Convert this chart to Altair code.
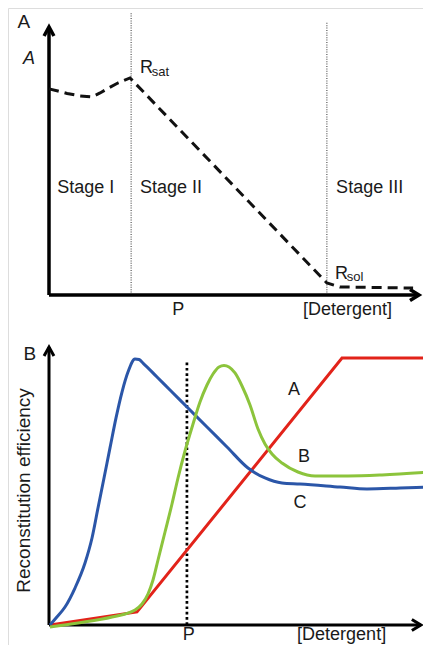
import altair as alt
import pandas as pd

FONT = "Liberation Sans"
INK = "#1a1a1a"

# ---------------- Panel A (schematic: aggregation state vs [detergent]) ----------------
a_conc = [0, 2.4, 4.9, 8.4, 11.6, 13.8, 15.7, 18.6, 21.9, 75.1, 78.6, 98.4]
a_value = [76.9, 76.1, 75.2, 74.3, 73.9, 75.4, 76.9, 79.1, 81.0, 4.5, 3.0, 2.6]
a_bounds = [22.2, 75.1]
a_bound_tops = [105.2, 101.9]
a_stage_labels = ["Stage I", "Stage II", "Stage III"]
a_stage_x = [2.2, 24.6, 77.6]
a_stage_y = [38.1, 38.1, 38.1]
a_point_labels = ["R", "R"]
a_point_x = [24.6, 77.3]
a_point_y = [82.8, 6.0]
a_sub_labels = ["sat", "sol"]
a_sub_x = [27.8, 80.5]
a_sub_y = [81.7, 5.2]
a_xlabels = ["P", "[Detergent]"]
a_xlabel_x = [34.9, 80.7]
a_xlabel_y = [-7.5, -7.5]
a_axis_end = 100

# ---------------- Panel B (reconstitution efficiency vs [detergent]) ----------------
b_red_x = [0.3, 23.1, 76.9, 100.3]
b_red_y = [0, 4.7, 96.0, 96.0]
b_blue_x = [0.26, 1.84, 4.2, 6.82, 9.45, 11.29, 12.86, 14.44, 16.01, 17.59, 19.16,
            20.73, 22.57, 23.62, 24.67, 28.35, 31.76, 36.22, 41.47, 46.72, 52.23,
            56.69, 61.15, 65.88, 76.38, 83.46, 92.13, 99.21]
b_blue_y = [0, 2.52, 6.47, 13.3, 22.3, 31.3, 42.1, 52.9, 63.7, 74.5, 83.8,
            91.0, 95.7, 95.5, 94.24, 89.21, 84.53, 78.42, 71.22, 64.03, 56.47,
            52.88, 51.08, 50.72, 49.64, 48.92, 49.28, 49.64]
b_green_x = [0.26, 7.61, 16.54, 22.57, 24.41, 25.98, 27.30, 28.61, 30.45, 32.28,
             33.86, 35.70, 37.80, 39.63, 41.47, 43.04, 44.62, 45.93, 47.24, 48.82,
             50.66, 52.76, 54.86, 56.69, 58.53, 61.15, 65.35, 69.82, 78.48, 87.40,
             100.26]
b_green_y = [-0.72, 0.72, 2.88, 5.40, 7.55, 11.15, 16.19, 23.38, 33.45, 43.53,
             52.88, 62.59, 72.30, 80.22, 86.33, 90.29, 92.81, 93.35, 92.81, 90.65,
             85.97, 79.14, 70.50, 65.11, 61.51, 58.27, 55.04, 53.60, 53.60, 53.96,
             55.04]
b_p = [36.2]
b_p_top = [94.6]
b_curve_labels = ["A", "B", "C"]
b_curve_x = [64.3, 66.9, 65.9]
b_curve_y = [84.5, 60.4, 43.9]
b_xlabels = ["P", "[Detergent]"]
b_xlabel_x = [36.7, 76.8]
b_xlabel_y = [-5.4, -5.4]
b_ytitle = ["Reconstitution efficiency"]
b_ytitle_x = [-6.6]
b_ytitle_y = [48.4]
b_axis_end = 97.6

UP = "M-0.55,1L0,0L0.55,1"
RIGHT = "M-1,-0.62L0,0L-1,0.62"


def sc(rng):
    return alt.Scale(domain=[0, 100], range=rng, nice=False, zero=False)


def enc(sx, sy, xf="x", yf="y"):
    return dict(x=alt.X(xf, type="quantitative", scale=sx, axis=None),
                y=alt.Y(yf, type="quantitative", scale=sy, axis=None))


def texts(labels, xs, ys, sx, sy, size, align="left", baseline="alphabetic", **kw):
    df = pd.DataFrame({"t": labels, "x": xs, "y": ys})
    return alt.Chart(df).mark_text(font=FONT, fontSize=size, align=align,
                                   baseline=baseline, color=INK, **kw).encode(
        text="t:N", **enc(sx, sy))


def frame(sx, sy, width, arrow_size, x_end):
    df = pd.DataFrame({"x": [0, 0], "y": [0, 0], "x2": [0, x_end], "y2": [100, 0]})
    lines = alt.Chart(df).mark_rule(color="black", strokeWidth=width).encode(
        x2="x2:Q", y2="y2:Q", **enc(sx, sy))
    up = alt.Chart(pd.DataFrame({"x": [0], "y": [100]})).mark_point(
        shape=UP, size=arrow_size, filled=False, stroke="black", strokeWidth=width,
        opacity=1).encode(**enc(sx, sy))
    right = alt.Chart(pd.DataFrame({"x": [x_end], "y": [0]})).mark_point(
        shape=RIGHT, size=arrow_size, filled=False, stroke="black", strokeWidth=width,
        opacity=1).encode(**enc(sx, sy))
    return [lines, up, right]


# ---- Panel A layers ----
sxa, sya = sc([41, 411]), sc([287, 19])
a_curve = alt.Chart(pd.DataFrame({"x": a_conc, "y": a_value})).mark_line(
    color="#111111", strokeWidth=3, strokeDash=[10, 6]).encode(**enc(sxa, sya))
a_div = alt.Chart(pd.DataFrame({"x": a_bounds, "y": [0, 0], "y2": a_bound_tops})).mark_rule(
    color="#555555", strokeWidth=1.2, strokeDash=[1, 1.4]).encode(y2="y2:Q", **enc(sxa, sya))
panel_a = alt.layer(
    a_div, *frame(sxa, sya, 3.5, 324, a_axis_end), a_curve,
    texts(a_stage_labels, a_stage_x, a_stage_y, sxa, sya, 18),
    texts(a_point_labels, a_point_x, a_point_y, sxa, sya, 18),
    texts(a_sub_labels, a_sub_x, a_sub_y, sxa, sya, 13),
    texts(a_xlabels, a_xlabel_x, a_xlabel_y, sxa, sya, 18, align="center"),
    texts(["A"], [-6.8], [101.9], sxa, sya, 19, align="center", baseline="middle"),
    texts(["A"], [-5.4], [88.1], sxa, sya, 18, align="center", baseline="middle",
          fontStyle="italic"),
)

# ---- Panel B layers ----
sxb, syb = sc([41, 422]), sc([617, 339])
b_pline = alt.Chart(pd.DataFrame({"x": b_p, "y": [0], "y2": b_p_top})).mark_rule(
    color="black", strokeWidth=2.7, strokeDash=[2.7, 2.6]).encode(y2="y2:Q", **enc(sxb, syb))


def curve(xs, ys, color, interp):
    return alt.Chart(pd.DataFrame({"x": xs, "y": ys})).mark_line(
        color=color, strokeWidth=3, interpolate=interp).encode(**enc(sxb, syb))


panel_b = alt.layer(
    b_pline, *frame(sxb, syb, 3, 324, b_axis_end),
    curve(b_red_x, b_red_y, "#e2231a", "linear"),
    curve(b_blue_x, b_blue_y, "#2b56a8", "monotone"),
    curve(b_green_x, b_green_y, "#8cc43c", "monotone"),
    texts(b_curve_labels, b_curve_x, b_curve_y, sxb, syb, 18, align="center",
          baseline="middle"),
    texts(b_xlabels, b_xlabel_x, b_xlabel_y, sxb, syb, 18, align="center"),
    texts(["B"], [-5.0], [97.5], sxb, syb, 19, align="center", baseline="middle"),
    texts(b_ytitle, b_ytitle_x, b_ytitle_y, sxb, syb, 19, align="center",
          baseline="middle", angle=270),
)

chart = alt.layer(panel_a, panel_b).resolve_scale(
    x="independent", y="independent"
).properties(
    width=415, height=637, padding=0,
    autosize=alt.AutoSizeParams(type="none"),
).configure_view(stroke=None).configure(background="white")

chart.save("out.html", embed_options={"renderer": "svg", "actions": False})
